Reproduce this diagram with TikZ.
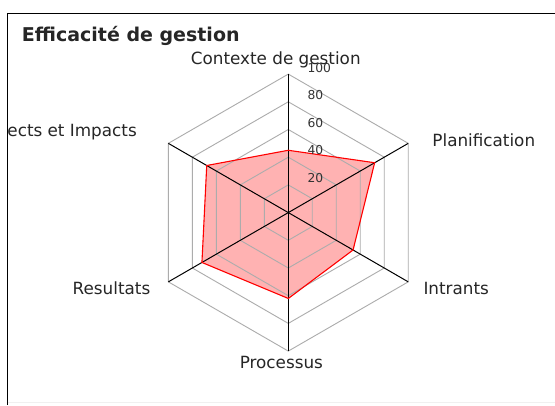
\documentclass[tikz,border=0pt]{standalone}
\usepackage{fontspec}
\setmainfont{DejaVu Sans}
\begin{document}
\begin{tikzpicture}[x=1pt,y=1pt,
  lbl/.style={inner sep=0pt, anchor=base, font=\fontsize{16.8}{19}\selectfont, text=black!85},
  tick/.style={inner sep=0pt, anchor=base west, font=\fontsize{12.3}{14}\selectfont, text=black!80},
  ring/.style={draw=gray!65, line width=0.9pt, line join=miter},
  axis/.style={draw=black, line width=1pt},
  series/.style={draw=red, line width=1.1pt, line join=miter},
  seriesfill/.style={fill=red!30},
  frame/.style={draw=black, line width=1.4pt}
  ]
\useasboundingbox (0,0) rectangle (555,405);
\fill[white] (0,0) rectangle (555,405);
\draw[frame] (7.5,0) -- (7.5,391.7) -- (555,391.7);
\draw[gray!12, line width=1pt] (8,3) -- (555,3);
\node[inner sep=0pt, anchor=base west, font=\bfseries\fontsize{19}{21}\selectfont, text=black!85] (title) at (21.7,363.3) {Efficacité de gestion};
\begin{scope}[shift={(288.3,192.4)}]
  \def\R{138.5}
  \coordinate (O) at (0,0);
  \coordinate (vc) at (90:\R);
  \coordinate (vp) at (30:\R);
  \coordinate (vi) at (-30:\R);
  \coordinate (vpr) at (-90:\R);
  \coordinate (vr) at (210:\R);
  \coordinate (ve) at (150:\R);
  \coordinate (dc) at (90:{0.45*\R});
  \coordinate (dp) at (30:{0.72*\R});
  \coordinate (di) at (-30:{0.54*\R});
  \coordinate (dpr) at (-90:{0.62*\R});
  \coordinate (dr) at (210:{0.72*\R});
  \coordinate (de) at (150:{0.68*\R});
  \fill[seriesfill] (dc) -- (dp) -- (di) -- (dpr) -- (dr) -- (de) -- cycle;
  \foreach \k in {1,...,5}{
    \draw[ring] (90:{\k*\R/5}) -- (30:{\k*\R/5}) -- (-30:{\k*\R/5}) -- (-90:{\k*\R/5}) -- (210:{\k*\R/5}) -- (150:{\k*\R/5}) -- cycle;
  }
  \foreach \v in {vc,vp,vi,vpr,vr,ve}{
    \draw[axis] (O) -- (\v);
  }
  \draw[series] (dc) -- (dp) -- (di) -- (dpr) -- (dr) -- (de) -- cycle;
  \node[tick] (t20) at (19,{1*\R/5+2.3}) {20};
  \node[tick] (t40) at (19,{2*\R/5+2.3}) {40};
  \node[tick] (t60) at (19,{3*\R/5+2.3}) {60};
  \node[tick] (t80) at (19,{4*\R/5+2.3}) {80};
  \node[tick] (t100) at (19,{5*\R/5+1.5}) {100};
\end{scope}
\node[lbl] (lc) at (275.8,340) {Contexte de gestion};
\node[lbl] (lp) at (483.8,258.3) {Planification};
\node[lbl] (li) at (456.2,110.7) {Intrants};
\node[lbl] (lpr) at (281.4,36.7) {Processus};
\node[lbl] (lr) at (111.5,110.7) {Resultats};
\node[lbl, anchor=base east] (le) at (137,268.3) {ects et Impacts};
\end{tikzpicture}
\end{document}
